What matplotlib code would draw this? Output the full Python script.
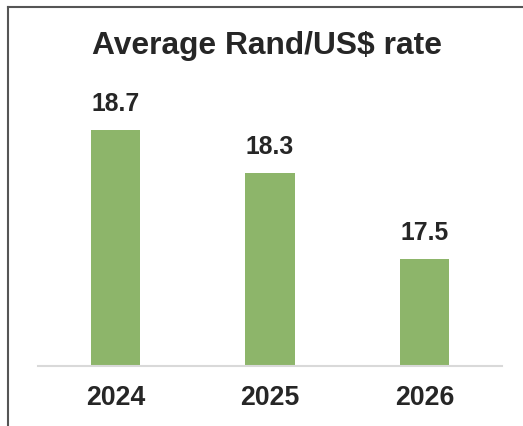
import matplotlib
matplotlib.use("Agg")
import matplotlib.pyplot as plt
from matplotlib.lines import Line2D

years = ["2024", "2025", "2026"]
rates = [18.7, 18.3, 17.5]
value_labels = ["18.7", "18.3", "17.5"]

bar_color = "#8db56a"
text_color = "#262626"

W, H = 523, 427
fig = plt.figure(figsize=(W / 100, H / 100), dpi=100)
plt.rcParams["font.family"] = ["Liberation Sans", "DejaVu Sans"]

# axes placed in pixel terms: baseline at y=367, plot spans x 38..502
left, right = 38, 502
bottom, top = 367, 44.5
ax = fig.add_axes([left / W, 1 - bottom / H, (right - left) / W, (bottom - top) / H])

x = range(len(years))
ax.bar(x, rates, width=0.317, color=bar_color, zorder=2)
ax.set_xlim(-0.5, 2.5)
ax.set_ylim(16.5, 19.5)

for xi, v, lab in zip(x, rates, value_labels):
    ax.annotate(lab, (xi, v), xytext=(0, 27), textcoords="offset pixels",
                ha="center", va="center", fontsize=17.8, fontweight="bold",
                color=text_color)

for s in ["top", "right", "left"]:
    ax.spines[s].set_visible(False)
ax.spines["bottom"].set_color("#d9d9d9")
ax.spines["bottom"].set_linewidth(1.5)
ax.set_yticks([])
ax.set_xticks(list(x))
ax.set_xticklabels(years, fontsize=19.2, fontweight="bold", color=text_color)
ax.tick_params(axis="x", length=0, pad=13)

fig.text(267 / W, 1 - 46 / H, "Average Rand/US$ rate", ha="center", va="center",
         fontsize=22.9, fontweight="bold", color=text_color)

# frame lines along the top and left edge
edge = "#555555"
fig.add_artist(Line2D([7.5 / W, 522 / W], [1 - 7.5 / H, 1 - 7.5 / H], color=edge,
                      linewidth=1.5, transform=fig.transFigure))
fig.add_artist(Line2D([7.5 / W, 7.5 / W], [1 - 7.5 / H, 0.0], color=edge,
                      linewidth=1.5, transform=fig.transFigure))

fig.savefig("out.png", dpi=100)
